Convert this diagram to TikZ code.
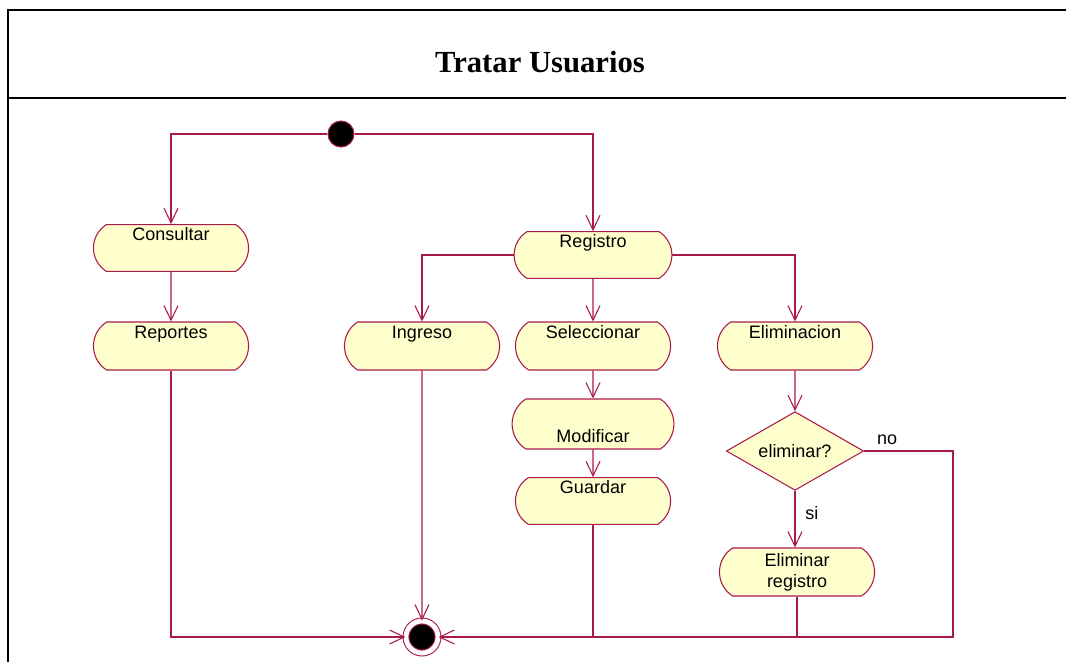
\documentclass[tikz,border=0pt]{standalone}
\usepackage{fontspec}
\setmainfont{Liberation Serif}
\setsansfont{Liberation Sans}
\usetikzlibrary{arrows.meta,shapes.misc,shapes.geometric,positioning}
\definecolor{umlline}{RGB}{170,25,75}
\definecolor{umlfill}{RGB}{255,255,206}

\tikzset{
  actividad/.style={draw=umlline, fill=umlfill, rounded rectangle, rounded rectangle arc length=115,
    minimum width=123pt, minimum height=35pt, inner ysep=0pt, align=center,
    font=\sffamily\fontsize{13.5}{16}\selectfont},
  decision/.style={draw=umlline, fill=umlfill, diamond, aspect=1.7, inner sep=1pt,
    minimum width=103pt, minimum height=59pt, font=\sffamily\fontsize{13.5}{16}\selectfont},
  inicio/.style={circle, draw=umlline, fill=black, minimum size=19.5pt, inner sep=0pt},
  fin/.style={circle, draw=umlline, fill=black, minimum size=24pt, inner sep=0pt,
    double=white, double distance=3.6pt},
  flujo/.style={draw=umlline, -{Straight Barb[length=11pt,width=10.5pt]}},
  linea/.style={draw=umlline},
  etiqueta/.style={font=\sffamily\fontsize{13.5}{16}\selectfont}
}

\begin{document}
\begin{tikzpicture}[x=0.75pt,y=-0.75pt,line width=0.8pt]
  \useasboundingbox (0,0) rectangle (1066,662);

  % Frame and title
  \draw[line width=1.5pt] (8,662) -- (8,10) -- (1066,10);
  \draw[line width=1.5pt] (8,98) -- (1066,98);
  \node[font=\bfseries\fontsize{23}{28}\selectfont] (titulo) at (540,62) {Tratar Usuarios};

  % Start and end
  \node[inicio] (start) at (341,134) {};
  \node[fin] (end) at (422,637) {};

  % Activities
  \node[actividad] (consultar) at (171,248) {Consultar\\\strut};
  \node[actividad, minimum height=36pt] (reportes) at (171,346) {Reportes\\\strut};
  \node[actividad, minimum width=125pt] (registro) at (593,255) {Registro\\\strut};
  \node[actividad, minimum height=36pt] (ingreso) at (422,346) {Ingreso\\\strut};
  \node[actividad, minimum height=36pt] (seleccionar) at (593,346) {Seleccionar\\\strut};
  \node[actividad, minimum height=36pt] (eliminacion) at (795,346) {Eliminacion\\\strut};
  \node[actividad, minimum width=128pt, minimum height=37.5pt] (modificar) at (593,424) {\strut\\Modificar};
  \node[actividad] (guardar) at (593,501) {Guardar\\\strut};

  % Decision
  \node[decision] (elimq) at (795,451) {eliminar?};
  \node[actividad, minimum height=36pt] (elimreg) at (797,572) {Eliminar\\registro};
  \coordinate (nobend) at (953,637);

  % Flows
  \draw[flujo] (start.west) -| (consultar.north);
  \draw[flujo] (start.east) -| (registro.north);
  \draw[flujo] (consultar) -- (reportes);
  \draw[flujo] (reportes.south) |- (end.west);
  \draw[flujo] (registro.west) -| (ingreso.north);
  \draw[flujo] (registro) -- (seleccionar);
  \draw[flujo] (registro.east) -| (eliminacion.north);
  \draw[flujo] (ingreso) -- (end);
  \draw[flujo] (seleccionar) -- (modificar);
  \draw[flujo] (modificar) -- (guardar);
  \draw[flujo] (eliminacion) -- (elimq);
  \draw[flujo] (elimq.south) -- node[etiqueta, right=4pt, pos=0.4] {si} (elimreg.north -| elimq.south);
  \draw[flujo] (elimq.east) -| (nobend) -- (end.east);
  \node[etiqueta, above right=1pt and 6pt of elimq.east] (no) {no};
  \draw[linea] (guardar.south) -- (guardar.south |- end.east);
  \draw[linea] (elimreg.south) -- (elimreg.south |- end.east);
\end{tikzpicture}
\end{document}
